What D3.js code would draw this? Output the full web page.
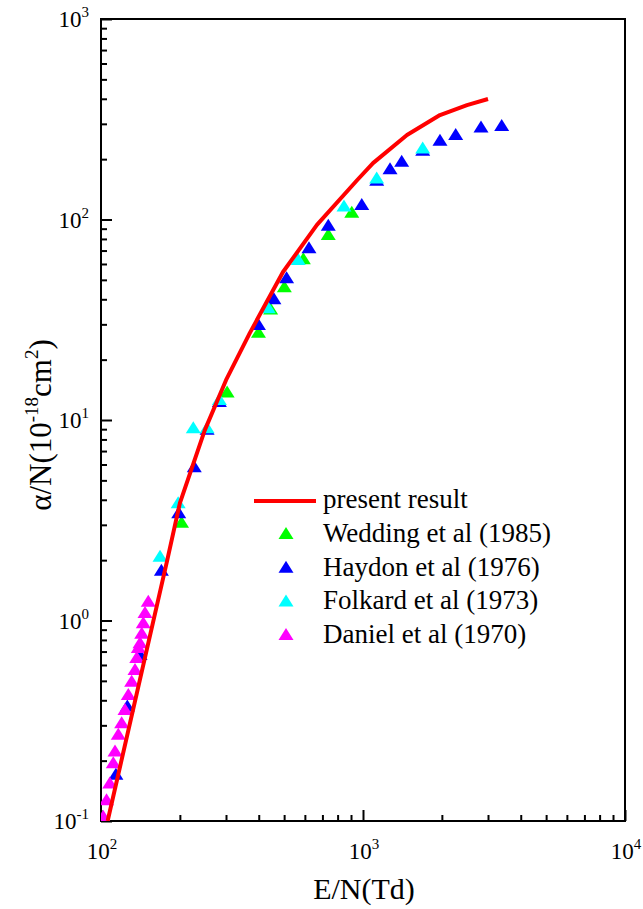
<!DOCTYPE html>
<html>
<head>
<meta charset="utf-8">
<script src="https://cdn.jsdelivr.net/npm/d3@7"></script>
<style>
  body { margin: 0; background: #fff; }
</style>
</head>
<body>
<svg id="chart" width="643" height="909" font-family="'Liberation Serif', 'Times New Roman', 'DejaVu Serif', serif"></svg>
<script>
// present result (red line)
const presentX = [106, 179, 200, 249, 300, 370, 495, 667, 949, 1092, 1472, 1967, 2494, 3000];
const presentY = [0.1, 2.0, 3.85, 8.9, 15.8, 27.2, 54.7, 94, 157, 191, 264, 332, 372, 399];

// Wedding et al (1985)
const weddingX = [203, 303, 399, 444, 501, 592, 737, 906];
const weddingY = [3.07, 13.7, 27.2, 35.6, 45.9, 63.3, 83.7, 108];

// Haydon et al (1976)
const haydonX = [114, 126, 141, 170, 198, 227, 254, 283, 399, 457, 511, 622, 737, 989, 1128, 1268, 1405, 1690, 1967, 2258, 2821, 3383];
const haydonY = [0.17, 0.372, 0.673, 1.77, 3.43, 5.81, 8.93, 12.3, 29.8, 40.0, 50.9, 71.8, 93.1, 118, 156, 178, 194, 220, 247, 264, 288, 293];

// Folkard et al (1973)
const folkardX = [168, 197, 225, 254, 283, 435, 566, 846, 1128, 1690];
const folkardY = [2.08, 3.84, 9.09, 9.09, 12.6, 36.1, 62.8, 116, 160, 226];

// Daniel et al (1970)
const danielX = [102, 105, 108, 111.4, 113.1, 116.4, 119.9, 123.5, 127.1, 130.9, 134.8, 136.9, 138.8, 140.9, 143, 145, 147.2, 151.5];
const danielY = [0.105, 0.127, 0.154, 0.194, 0.222, 0.269, 0.307, 0.358, 0.425, 0.495, 0.567, 0.65, 0.73, 0.77, 0.86, 0.97, 1.09, 1.24];

const xMajor = [100, 1000, 10000];
const yMajor = [0.1, 1, 10, 100, 1000];

const svg = d3.select('#chart');
const plotL = 101, plotR = 625, plotT = 19, plotB = 821;

const x = d3.scaleLog().domain([100, 10000]).range([plotL, plotR]);
const y = d3.scaleLog().domain([0.1, 1000]).range([plotB, plotT]);

const minors = (majors) => {
  const out = [];
  majors.slice(0, -1).forEach((m) => {
    for (let k = 2; k <= 9; k++) out.push(m * k);
  });
  return out;
};

svg.append('clipPath').attr('id', 'plot-clip')
  .append('rect')
  .attr('x', plotL).attr('y', plotT)
  .attr('width', plotR - plotL).attr('height', plotB - plotT);

// Axes (inward ticks)
const axisStyle = (g) => {
  g.select('.domain').remove();
  g.selectAll('line').attr('stroke', '#000').attr('stroke-width', 2);
  g.selectAll('text').remove();
};

svg.append('g').attr('transform', `translate(0,${plotB})`)
  .call(d3.axisBottom(x).tickValues(xMajor).tickSize(-11)).call(axisStyle);
svg.append('g').attr('transform', `translate(0,${plotB})`)
  .call(d3.axisBottom(x).tickValues(minors(xMajor)).tickSize(-6)).call(axisStyle);
svg.append('g').attr('transform', `translate(${plotL},0)`)
  .call(d3.axisLeft(y).tickValues(yMajor).tickSize(-11)).call(axisStyle);
svg.append('g').attr('transform', `translate(${plotL},0)`)
  .call(d3.axisLeft(y).tickValues(minors(yMajor)).tickSize(-6)).call(axisStyle);

// frame
svg.append('rect')
  .attr('x', plotL).attr('y', plotT)
  .attr('width', plotR - plotL).attr('height', plotB - plotT)
  .attr('fill', 'none').attr('stroke', '#000').attr('stroke-width', 2);

// tick labels with superscript exponents
xMajor.forEach((v) => {
  const t = svg.append('text')
    .attr('x', x(v) + 1).attr('y', 859)
    .attr('text-anchor', 'middle')
    .attr('font-size', 23);
  t.append('tspan').text('10');
  t.append('tspan').attr('dy', -10).attr('font-size', 15).text(Math.round(Math.log10(v)));
});

yMajor.forEach((v) => {
  const t = svg.append('text')
    .attr('x', 89).attr('y', y(v) + 8)
    .attr('text-anchor', 'end')
    .attr('font-size', 23);
  t.append('tspan').text('10');
  t.append('tspan').attr('dy', -10).attr('font-size', 15).text(Math.round(Math.log10(v)));
});

// axis titles
svg.append('text')
  .attr('x', 364).attr('y', 899)
  .attr('text-anchor', 'middle')
  .attr('font-size', 30)
  .text('E/N(Td)');

const yt = svg.append('text')
  .attr('transform', 'translate(51,425) rotate(-90)')
  .attr('text-anchor', 'middle')
  .attr('font-size', 31);
yt.append('tspan').text('\u03b1/N(10');
yt.append('tspan').attr('dy', -13).attr('font-size', 19).text('-18');
yt.append('tspan').attr('dy', 13).text('cm');
yt.append('tspan').attr('dy', -13).attr('font-size', 19).text('2');
yt.append('tspan').attr('dy', 13).text(')');

// markers
const tri = 'M0,-7L7.5,5L-7.5,5Z';
const series = [
  { name: 'Wedding et al (1985)', xs: weddingX, ys: weddingY, color: '#00ff00' },
  { name: 'Haydon et al (1976)', xs: haydonX, ys: haydonY, color: '#0000ff' },
  { name: 'Folkard et al (1973)', xs: folkardX, ys: folkardY, color: '#00ffff' },
  { name: 'Daniel et al (1970)', xs: danielX, ys: danielY, color: '#ff00ff' },
];

const plot = svg.append('g').attr('clip-path', 'url(#plot-clip)');

series.forEach((s) => {
  plot.append('g')
    .selectAll('path')
    .data(s.xs.map((v, i) => ({ x: v, y: s.ys[i] })))
    .join('path')
    .attr('d', tri)
    .attr('transform', d => `translate(${x(d.x)},${y(d.y)})`)
    .attr('fill', s.color);
});

const line = d3.line()
  .x(d => x(d.x))
  .y(d => y(d.y));

plot.append('path')
  .datum(presentX.map((v, i) => ({ x: v, y: presentY[i] })))
  .attr('d', line)
  .attr('fill', 'none')
  .attr('stroke', '#ff0000')
  .attr('stroke-width', 4)
  .attr('stroke-linejoin', 'round');

// legend
const legend = svg.append('g');
legend.append('line')
  .attr('x1', 254).attr('x2', 316)
  .attr('y1', 501).attr('y2', 501)
  .attr('stroke', '#ff0000').attr('stroke-width', 4);
legend.append('text')
  .attr('x', 323).attr('y', 508)
  .attr('font-size', 27)
  .text('present result');

series.forEach((s, i) => {
  const yy = 534 + i * 33.7;
  legend.append('path')
    .attr('d', tri)
    .attr('transform', `translate(286,${yy})`)
    .attr('fill', s.color);
  legend.append('text')
    .attr('x', 323).attr('y', 542 + i * 33.5)
    .attr('font-size', 27)
    .text(s.name);
});
</script>
</body>
</html>
